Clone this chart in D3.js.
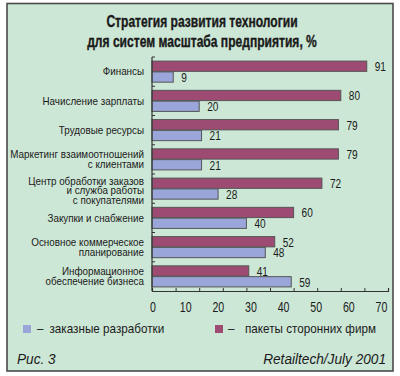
<!DOCTYPE html>
<html><head><meta charset="utf-8">
<script src="https://cdn.jsdelivr.net/npm/d3@7"></script>
<style>
html,body{margin:0;padding:0;background:#fff;}
svg{display:block;}
text{font-family:"Liberation Sans",Arial,sans-serif;fill:#1a1a1a;}
</style></head>
<body>
<script>
const categories = [
  ["Финансы"],
  ["Начисление зарплаты"],
  ["Трудовые ресурсы"],
  ["Маркетинг взаимоотношений", "с клиентами"],
  ["Центр обработки заказов", "и служба работы", "с покупателями"],
  ["Закупки и снабжение"],
  ["Основное коммерческое", "планирование"],
  ["Информационное", "обеспечение бизнеса"]
];
const packagedValues = [91, 80, 79, 79, 72, 60, 52, 41]; // пакеты сторонних фирм
const customValues   = [9, 20, 21, 21, 28, 40, 48, 59];  // заказные разработки
const seriesNames = ["пакеты сторонних фирм", "заказные разработки"];
const axisTickLabels = ["0","10","20","30","40","50","60","70"];
const barDomainMax = 100;
const titleLines = ["Стратегия развития технологии", "для систем масштаба предприятия, %"];
const figLabel = "Рис. 3";
const sourceLabel = "Retailtech/July 2001";

const W = 400, H = 376;
const colors = {pak: "#9e4b74", zak: "#9aa6da", bg: "#cde7d6", frame: "#4a4a4a", edge: "#555"};

const svg = d3.select("body").append("svg").attr("width", W).attr("height", H);

// narrow-font emulation: measure a sample string and compute horizontal squeeze
function squeeze(str, size, weight, style, target) {
  const t = svg.append("text").attr("font-size", size).attr("font-weight", weight || "normal")
    .attr("font-style", style || "normal").text(str);
  const w = t.node().getComputedTextLength();
  t.remove();
  return target / w;
}
function ntext(parent, x, y, str, o) {
  const g = parent.append("g").attr("transform", `translate(${x},${y}) scale(${o.k},1)`);
  const t = g.append("text").attr("x", 0).attr("y", 0)
    .attr("text-anchor", o.anchor || "start")
    .attr("font-size", o.size).attr("font-weight", o.weight || "normal")
    .attr("font-style", o.style || "normal")
    .attr("dy", o.dy || null)
    .text(str);
  if (o.stroke) t.attr("stroke", "#1a1a1a").attr("stroke-width", o.stroke);
  return t;
}

// frame
svg.append("rect").attr("x", 7).attr("y", 3.5).attr("width", 386).attr("height", 367.5)
  .attr("fill", colors.bg).attr("stroke", colors.frame).attr("stroke-width", 1.6);

// title
const kTitle = squeeze(titleLines[1], 16, "bold", null, 230);
titleLines.forEach((s, i) => ntext(svg, 202, 27 + i*19.5, s, {k: kTitle, size: 16, weight: "bold", anchor: "middle", stroke: 0.35}));

const x0 = 152, x1 = 388, yTop = 57, yBot = 291;
const x = d3.scaleLinear().domain([0, barDomainMax]).range([x0, x1]);
const keys = categories.map((c,i) => i);
const y = d3.scaleBand().domain(keys).range([yTop, yBot]).paddingInner(0.28).paddingOuter(0.14);
const ySub = d3.scaleBand().domain(["pak","zak"]).range([0, y.bandwidth()]).paddingInner(0.05);

const data = keys.map(i => ({i, pak: packagedValues[i], zak: customValues[i]}));

const g = svg.append("g");
const kVal = squeeze("91", 13.5, null, null, 11.2);
const kCat = squeeze("Маркетинг взаимоотношений", 10.5, null, null, 134);
const lh = 9.8;

data.forEach(d => {
  const gg = g.append("g").attr("transform", `translate(0,${y(d.i)})`);
  ["pak","zak"].forEach(k => {
    gg.append("rect")
      .attr("x", x(0)).attr("y", ySub(k))
      .attr("width", x(d[k]) - x(0)).attr("height", ySub.bandwidth())
      .attr("fill", colors[k]).attr("stroke", colors.edge).attr("stroke-width", 1);
    ntext(gg, x(d[k]) + 8, ySub(k) + ySub.bandwidth()/2, d[k], {k: kVal, size: 13.5, dy: "0.36em"});
  });
  const lines = categories[d.i];
  const cy = y.bandwidth()/2 + (lines.length === 3 ? 2 : 0);
  lines.forEach((ln, j) => {
    ntext(gg, 144, cy + (j - (lines.length-1)/2)*lh, ln, {k: kCat, size: 10.5, anchor: "end", dy: "0.36em"});
  });
});

// y axis line + boundary ticks
const step = y.step();
const bounds = keys.map(i => y(i) - y.paddingInner()*step/2);
g.append("line").attr("x1", x0).attr("x2", x0).attr("y1", yTop).attr("y2", yBot)
  .attr("stroke", "#333").attr("stroke-width", 1.2);
g.selectAll("line.yt").data(bounds).join("line").attr("class","yt")
  .attr("x1", x0).attr("x2", x0 + 3).attr("y1", d => d).attr("y2", d => d)
  .attr("stroke", "#333");

// x axis: ticks from bar scale, labels evenly spaced as in the original
const xa = g.append("g").attr("transform", `translate(0,${yBot})`)
  .call(d3.axisBottom(x).tickValues(d3.range(0, barDomainMax + 1, 10)).tickSize(-3).tickFormat(""));
xa.select(".domain").attr("stroke", "#333").attr("stroke-width", 1.2);
xa.selectAll(".tick line").attr("stroke", "#333");
const xl = d3.scalePoint().domain(axisTickLabels).range([153, 381.5]);
const kAx = squeeze("70", 14.5, null, null, 11.8);
axisTickLabels.forEach(s => ntext(g, xl(s), 312, s, {k: kAx, size: 14.5, anchor: "middle"}));

// legend
const kLeg = squeeze(seriesNames[0], 13, null, null, 131);
const leg = [
  {k: "zak", x: 23, dx: 37, tx: 49.5, label: seriesNames[1]},
  {k: "pak", x: 215, dx: 228, tx: 245, label: seriesNames[0]}
];
leg.forEach(d => {
  svg.append("rect").attr("x", d.x).attr("y", 325).attr("width", 8).attr("height", 8).attr("fill", colors[d.k]);
  ntext(svg, d.dx, 333, "–", {k: kLeg, size: 13});
  ntext(svg, d.tx, 333, d.label, {k: kLeg, size: 13});
});

// footer
const kFoot = squeeze(sourceLabel, 15, null, "italic", 123);
ntext(svg, 17, 364, figLabel, {k: kFoot, size: 15, style: "italic"});
ntext(svg, 386, 364, sourceLabel, {k: kFoot, size: 15, style: "italic", anchor: "end"});
</script>
</body></html>
